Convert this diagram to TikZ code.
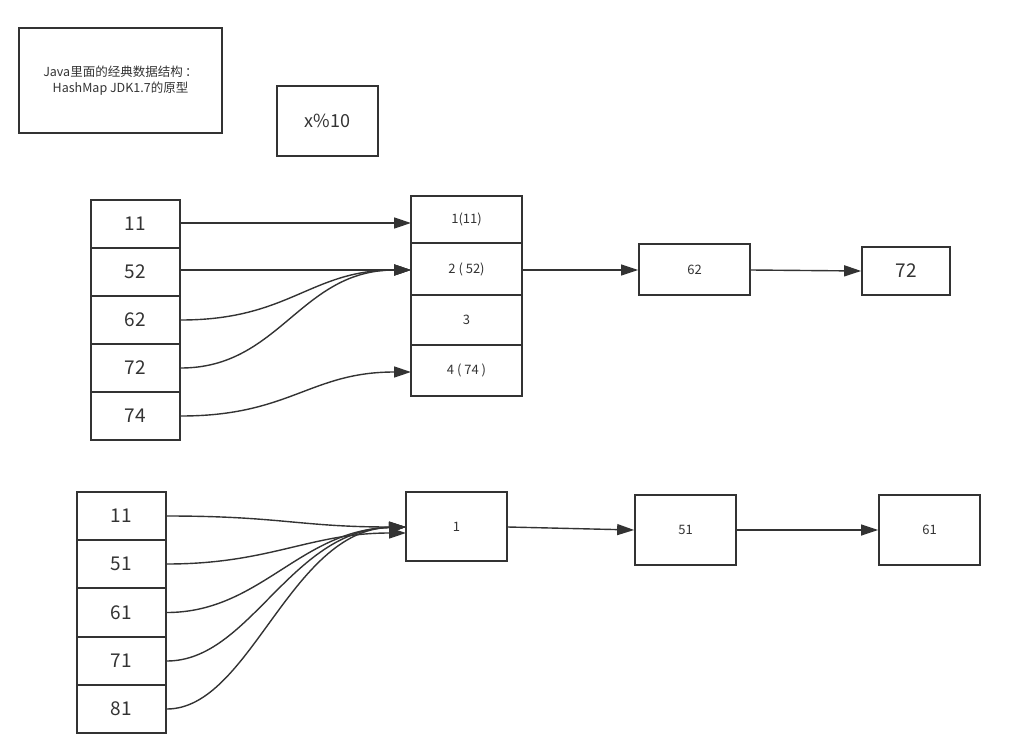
\documentclass[tikz,border=0pt]{standalone}
\usepackage{fontspec}
\setmainfont{Noto Sans CJK SC}
\usetikzlibrary{arrows.meta}
\definecolor{ink}{HTML}{333333}
\tikzset{
  box/.style={draw=ink, line width=1.7pt, text=ink, inner sep=0pt, align=center},
  big/.style={font=\fontsize{19}{21}\selectfont},
  small/.style={font=\fontsize{13}{16}\selectfont},
  conn/.style={draw=ink, line width=1.4pt, -{Triangle[length=17pt,width=11pt]}},
}
\begin{document}
\begin{tikzpicture}[x=1pt,y=-1pt]
\useasboundingbox (0,0) rectangle (1012,752);
% title and formula
\node[box, font=\fontsize{12.5}{16.5}\selectfont, minimum width=203pt, minimum height=105pt] (title) at (120.5,80.5)
  {Java里面的经典数据结构\kern0.2em ：\\HashMap JDK1.7的原型};
\node[box, font=\fontsize{18}{20}\selectfont, minimum width=101pt, minimum height=70pt] (mod) at (327.5,121) {x\%10};

% top keys
\foreach \n/\t/\y in {ka/11/224, kb/52/272, kc/62/320, kd/72/368, ke/74/416}{
  \node[box, big, minimum width=89pt, minimum height=48pt] (\n) at (135.5,\y) {\t};
}
% top buckets
\node[box, small, minimum width=111pt, minimum height=47pt] (b1) at (466.5,219.5) {1(11)};
\node[box, small, minimum width=111pt, minimum height=52pt] (b2) at (466.5,269) {2 ( 52)};
\node[box, small, minimum width=111pt, minimum height=50pt] (b3) at (466.5,320) {3};
\node[box, small, minimum width=111pt, minimum height=51pt] (b4) at (466.5,370.5) {4 ( 74 )};
% chain
\node[box, small, minimum width=111pt, minimum height=51pt] (n62) at (694.5,269.5) {62};
\node[box, big, minimum width=88pt, minimum height=48pt] (n72) at (906,271) {72};

\coordinate (t1) at (411,223);
\coordinate (t2) at (411,270);
\coordinate (t4) at (411,372);
\draw[conn] (ka.east |- t1) -- (t1);
\draw[conn] (kb.east |- t2) -- (t2);
\draw[conn] (kc.east) .. controls (290,320) and (310,270) .. (t2);
\draw[conn] (kd.east) .. controls (280,368) and (300,270) .. (t2);
\draw[conn] (ke.east) .. controls (290,416) and (310,372) .. (t4);
\draw[conn] (b2.east |- t2) -- (n62.west |- t2);
\draw[conn] (n62.east |- t2) -- (n72.west);

% bottom keys
\foreach \n/\t/\y in {la/11/516, lb/51/564, lc/61/612.5, ld/71/661, le/81/709}{
  \node[box, big, minimum width=89pt, minimum height=48pt] (\n) at (121.5,\y) {\t};
}
\node[box, small, minimum width=101pt, minimum height=69pt] (m1) at (456.5,526.5) {1};
\node[box, small, minimum width=101pt, minimum height=70pt] (m51) at (685.5,530) {51};
\node[box, small, minimum width=101pt, minimum height=70pt] (m61) at (929.5,530) {61};

\coordinate (u1) at (406,527);
\coordinate (u2) at (406,533);
\draw[conn] (la.east) .. controls (280,516) and (300,527) .. (u1);
\draw[conn] (lb.east) .. controls (270,564) and (310,533) .. (u2);
\draw[conn] (lc.east) .. controls (260,612.5) and (300,530) .. (u1);
\draw[conn] (ld.east) .. controls (250,661) and (290,530) .. (u1);
\draw[conn] (le.east) .. controls (250,709) and (290,530) .. (u1);
\draw[conn] (m1.east |- u1) -- (m51.west);
\draw[conn] (m51.east) -- (m61.west);
\end{tikzpicture}
\end{document}
